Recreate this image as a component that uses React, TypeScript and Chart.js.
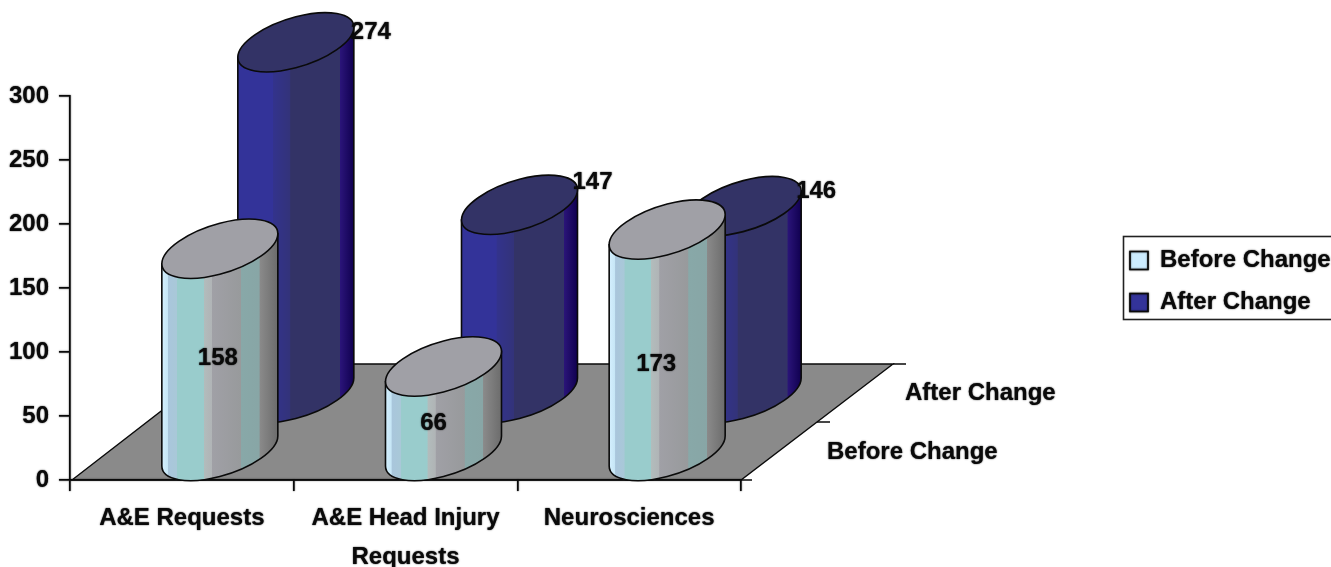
import React, { useEffect, useRef } from "react";
import { Chart, registerables } from "chart.js";

Chart.register(...registerables);

const categories = [["A&E Requests"], ["A&E Head Injury", "Requests"], ["Neurosciences"]];
const seriesNames = ["Before Change", "After Change"];
const beforeValues = [158, 66, 173];
const afterValues = [274, 147, 146];
const yTicks = { min: 0, max: 300, step: 50 };

const FONT_FAMILY = "'Liberation Sans', Arial, sans-serif";
const W = 1331;
const H = 567;
const PLOT = { left: 70, right: 741, top: 96, bottom: 480 };
const DEPTH = { dx: 152, dy: 116 };
const INK = "#0a0a0a";
const CYL = { a: 58, b: 25.5, shear: 0.26 };

const LOOK = [
  {
    depth: 0.25,
    top: "#a0a0a6",
    legend: "#ccecff",
    stops: [
      [0, "#d4f0ff"], [0.05, "#c6e6f6"], [0.055, "#a9c6dc"], [0.13, "#a9c8d8"], [0.135, "#99cccc"], [0.36, "#99cccc"],
      [0.365, "#b2bcbc"], [0.43, "#b0b4b6"], [0.435, "#a0a0a6"], [0.68, "#989a9c"], [0.685, "#88a8a8"], [0.84, "#88a6a6"],
      [0.845, "#8a8a8a"], [1, "#6c6c6c"],
    ],
    labelOffset: [[-2, 8], [-10, 15], [-11, 24]],
  },
  {
    depth: 0.75,
    top: "#333366",
    legend: "#333399",
    stops: [
      [0, "#333399"], [0.3, "#333399"], [0.305, "#33338c"], [0.45, "#33337a"], [0.455, "#333366"], [0.88, "#333366"],
      [0.885, "#2a1478"], [1, "#100050"],
    ],
    labelOffset: [[75, -10], [73, -22], [73, -15]],
  },
];

function heavyInk(ctx: CanvasRenderingContext2D, on: boolean) {
  ctx.shadowColor = on ? "rgba(0,0,0,0.9)" : "rgba(0,0,0,0)";
  ctx.shadowBlur = on ? 1.5 : 0;
}

function drawCylinder(ctx: CanvasRenderingContext2D, cx: number, topY: number, h: number, look: any) {
  const { a, b, shear } = CYL;
  const grad = ctx.createLinearGradient(cx - a, 0, cx + a, 0);
  look.stops.forEach(([p, c]: [number, string]) => grad.addColorStop(p, c));
  ctx.lineWidth = 1.6;
  ctx.strokeStyle = INK;

  ctx.save();
  ctx.transform(1, -shear, 0, 1, cx, topY);
  ctx.beginPath();
  ctx.moveTo(-a, 0);
  ctx.lineTo(-a, h);
  ctx.ellipse(0, h, a, b, 0, Math.PI, 0, true);
  ctx.lineTo(a, 0);
  ctx.closePath();
  ctx.restore();
  ctx.fillStyle = grad;
  ctx.fill();
  ctx.stroke();

  ctx.save();
  ctx.transform(1, -shear, 0, 1, cx, topY);
  ctx.beginPath();
  ctx.ellipse(0, 0, a, b, 0, 0, Math.PI * 2);
  ctx.restore();
  ctx.fillStyle = look.top;
  ctx.fill();
  ctx.stroke();
}

const cylinderPlugin = {
  id: "cylinders",
  beforeDraw(chart: any) {
    const ctx = chart.ctx;
    const { left, right, bottom } = chart.chartArea;

    // floor of the 3D plot
    ctx.save();
    ctx.beginPath();
    ctx.moveTo(left + 2, bottom);
    ctx.lineTo(right, bottom);
    ctx.lineTo(right + DEPTH.dx, bottom - DEPTH.dy);
    ctx.lineTo(left + DEPTH.dx, bottom - DEPTH.dy);
    ctx.closePath();
    ctx.fillStyle = "#8a8a8a";
    ctx.fill();
    ctx.strokeStyle = INK;
    ctx.lineWidth = 1.4;
    ctx.stroke();
    // depth axis ticks
    ctx.beginPath();
    ctx.moveTo(right, bottom);
    ctx.lineTo(right + 11, bottom);
    ctx.moveTo(right + DEPTH.dx / 2, bottom - DEPTH.dy / 2);
    ctx.lineTo(right + DEPTH.dx / 2 + 13, bottom - DEPTH.dy / 2);
    ctx.moveTo(right + DEPTH.dx, bottom - DEPTH.dy);
    ctx.lineTo(right + DEPTH.dx + 13, bottom - DEPTH.dy);
    ctx.stroke();
    ctx.restore();

    // legend frame, legend moved to its place
    const lg = chart.legend;
    const w = lg.width;
    lg.left = 1112;
    lg.right = 1112 + w;
    lg.top = 230.5;
    lg.bottom = 340;
    ctx.save();
    ctx.strokeStyle = "#222";
    ctx.lineWidth = 1.6;
    ctx.strokeRect(1123.5, 236.5, 220, 83);
    ctx.restore();

    heavyInk(ctx, true);
  },
  beforeDatasetsDraw(chart: any) {
    heavyInk(chart.ctx, false);
  },
  beforeDatasetDraw() {
    return false;
  },
  afterDraw(chart: any) {
    const ctx = chart.ctx;
    const xs = chart.scales.x;
    const ys = chart.scales.y;
    const zero = ys.getPixelForValue(0);
    const order = [1, 0];
    heavyInk(ctx, false);
    order.forEach((di) => {
      const look = LOOK[di];
      chart.data.datasets[di].data.forEach((v: number, i: number) => {
        const cx = xs.getPixelForValue(i) + DEPTH.dx * look.depth;
        const h = zero - ys.getPixelForValue(v);
        const baseY = zero - DEPTH.dy * look.depth;
        drawCylinder(ctx, cx, baseY - h, h, look);
      });
    });

    // value labels and depth axis labels
    ctx.save();
    heavyInk(ctx, true);
    ctx.fillStyle = INK;
    ctx.font = `bold 24px ${FONT_FAMILY}`;
    ctx.textBaseline = "middle";
    ctx.textAlign = "center";
    [0, 1].forEach((di) => {
      const look = LOOK[di];
      chart.data.datasets[di].data.forEach((v: number, i: number) => {
        const cx = xs.getPixelForValue(i) + DEPTH.dx * look.depth;
        const h = zero - ys.getPixelForValue(v);
        const baseY = zero - DEPTH.dy * look.depth;
        const [ox, oy] = look.labelOffset[i];
        const y = di === 0 ? baseY - h / 2 + oy : baseY - h + oy;
        ctx.fillText(String(v), cx + ox, y);
      });
    });
    ctx.textAlign = "left";
    ctx.fillText(seriesNames[1], PLOT.right + 164, 393);
    ctx.fillText(seriesNames[0], PLOT.right + 86, 452);
    ctx.restore();
  },
};

export default function App() {
  const ref = useRef<HTMLCanvasElement | null>(null);

  useEffect(() => {
    const chart: any = new Chart(ref.current as HTMLCanvasElement, {
      type: "bar",
      data: {
        labels: categories,
        datasets: [
          { label: seriesNames[0], data: beforeValues, backgroundColor: LOOK[0].legend, borderColor: INK, borderWidth: 1.6 },
          { label: seriesNames[1], data: afterValues, backgroundColor: LOOK[1].legend, borderColor: INK, borderWidth: 1.6 },
        ],
      },
      options: {
        responsive: false,
        animation: false,
        layout: { padding: { left: 0, top: PLOT.top, right: 200, bottom: 0 } },
        plugins: {
          tooltip: { enabled: false },
          legend: {
            position: "right",
            align: "start",
            labels: {
              boxWidth: 18,
              boxHeight: 18,
              padding: 18,
              color: INK,
              font: { family: FONT_FAMILY, size: 24, weight: "bold" },
            },
          },
        },
        scales: {
          x: {
            afterFit(s: any) {
              s.height = H - PLOT.bottom;
            },
            border: { color: INK, width: 1.6 },
            grid: { drawOnChartArea: false, color: INK, tickLength: 11, lineWidth: 1.6, offset: true },
            ticks: {
              color: INK,
              padding: 8,
              maxRotation: 0,
              autoSkip: false,
              font: { family: FONT_FAMILY, size: 24, weight: "bold", lineHeight: 1.62 },
            },
          },
          y: {
            min: yTicks.min,
            max: yTicks.max,
            afterFit(s: any) {
              s.width = PLOT.left;
            },
            border: { color: INK, width: 1.6 },
            grid: { drawOnChartArea: false, color: INK, tickLength: 11, lineWidth: 1.6 },
            ticks: {
              stepSize: yTicks.step,
              color: INK,
              padding: 10,
              font: { family: FONT_FAMILY, size: 24, weight: "bold" },
            },
          },
        },
      },
      plugins: [cylinderPlugin],
    });
    chart.options.layout.padding.right = W - PLOT.right - chart.legend.width;
    chart.update();
    return () => chart.destroy();
  }, []);

  return (
    <div style={{ position: "fixed", left: 0, top: 0, width: W, height: H, background: "#fff" }}>
      <canvas ref={ref} width={W} height={H} style={{ display: "block", filter: "blur(0.5px)" }} />
    </div>
  );
}
